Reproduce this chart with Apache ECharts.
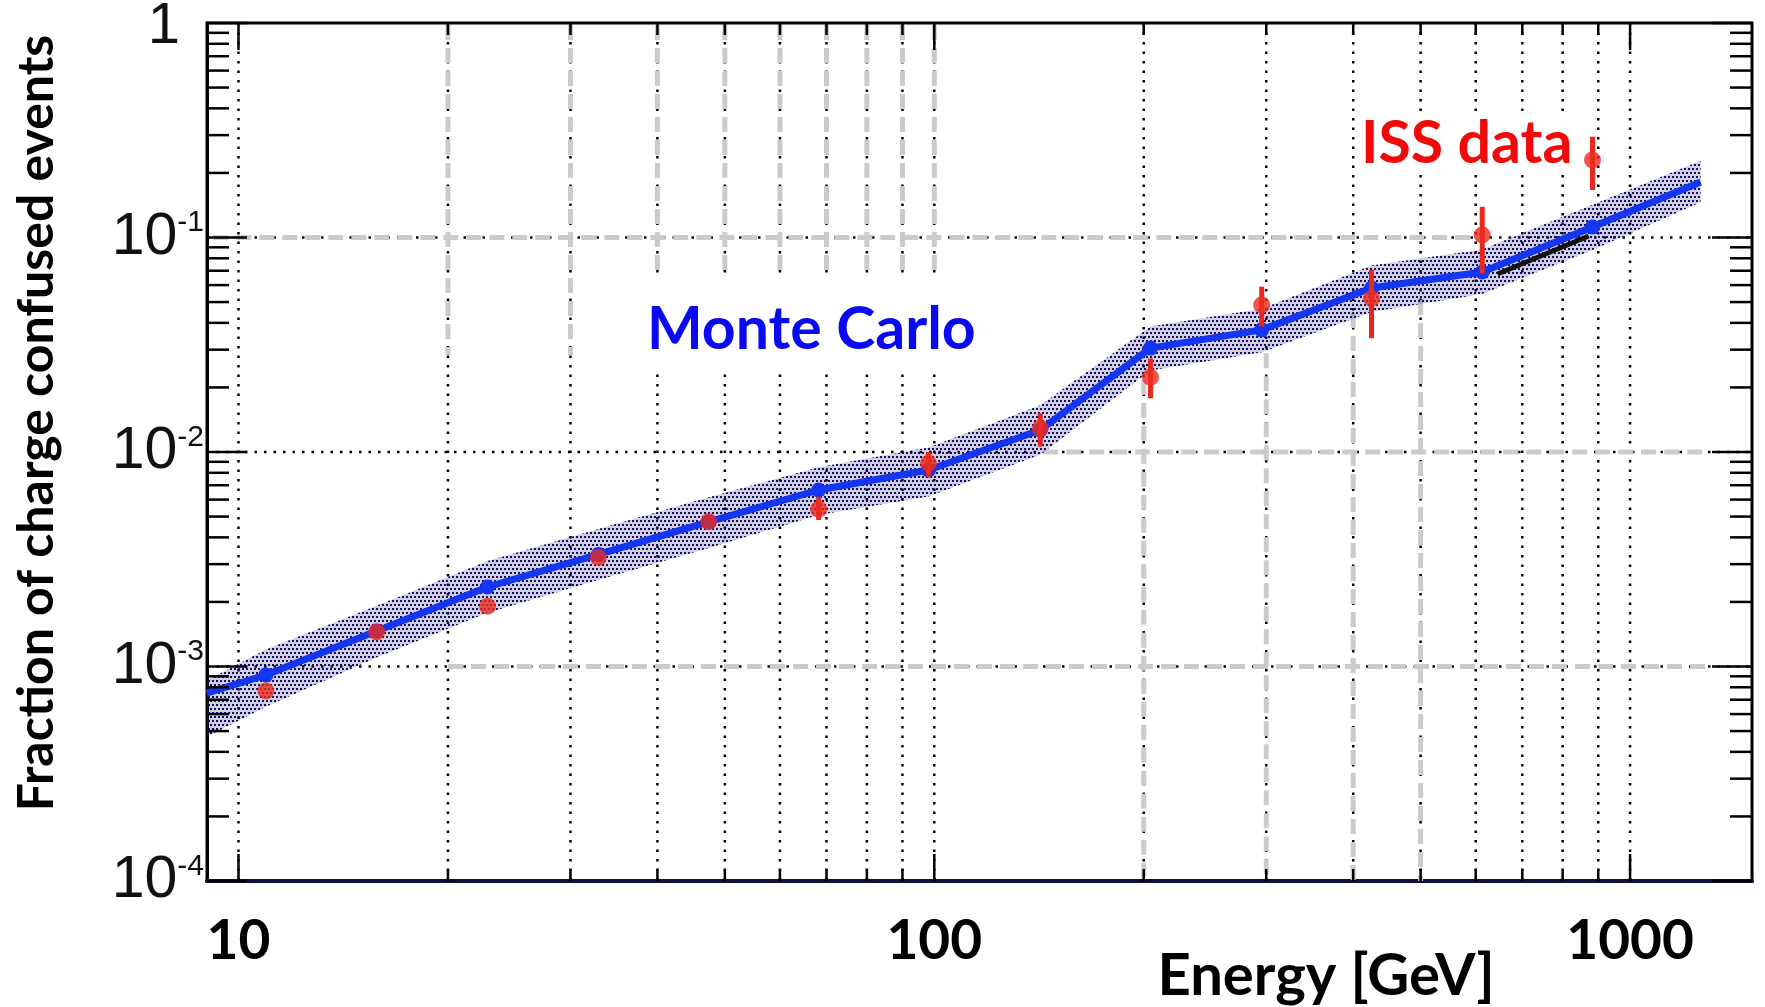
<!DOCTYPE html>
<html><head><meta charset="utf-8">
<script src="https://cdn.jsdelivr.net/npm/echarts@6/dist/echarts.min.js"></script>
<style>html,body{margin:0;padding:0;background:#fff}#c{width:1765px;height:1007px}</style>
</head><body><div id="c"></div>
<script>
// ---------------- data ----------------
const energyMC   = [9.0, 10.95, 15.8, 22.8, 32.9, 47.4, 68.2, 98.1, 142, 204.5, 295.5, 425, 613, 883, 1263];
const fractionMC = [7.52e-4, 9.13e-4, 1.464e-3, 2.348e-3, 3.33e-3, 4.72e-3, 6.65e-3, 8.24e-3, 1.267e-2, 3.05e-2, 3.71e-2, 5.81e-2, 6.91e-2, 0.1119, 0.1814];
const bandHigh   = [8.6e-4, 1.2e-3, 1.92e-3, 3.1e-3, 4.38e-3, 6.15e-3, 8.5e-3, 1.05e-2, 1.65e-2, 3.85e-2, 4.65e-2, 7.4e-2, 8.8e-2, 0.142, 0.228];
const bandLow    = [4.7e-4, 6.5e-4, 1.1e-3, 1.78e-3, 2.53e-3, 3.57e-3, 5.08e-3, 6.2e-3, 9.7e-3, 2.4e-2, 2.92e-2, 4.5e-2, 5.45e-2, 8.75e-2, 0.146];

const energyISS   = [10.95, 15.8, 22.8, 32.9, 47.4, 68.2, 98.1, 142, 204.5, 295.5, 425, 613, 883];
const fractionISS = [7.69e-4, 1.45e-3, 1.91e-3, 3.22e-3, 4.73e-3, 5.41e-3, 8.86e-3, 1.29e-2, 2.23e-2, 4.84e-2, 5.2e-2, 0.1027, 0.23];
const errLowISS   = [7.69e-4, 1.45e-3, 1.91e-3, 3.22e-3, 4.73e-3, 4.82e-3, 7.67e-3, 1.06e-2, 1.78e-2, 3.84e-2, 3.39e-2, 6.8e-2, 0.1665];
const errHighISS  = [7.69e-4, 1.45e-3, 1.91e-3, 3.22e-3, 4.73e-3, 6.19e-3, 1.0e-2, 1.515e-2, 2.73e-2, 5.9e-2, 7.06e-2, 0.139, 0.295];

const energyFit   = [645, 872];
const fractionFit = [0.0676, 0.1016];

// axis ticks / grid
const xTickLabels  = [10, 100, 1000];
const xMinorTicks  = [20, 30, 40, 50, 60, 70, 80, 90, 200, 300, 400, 500, 600, 700, 800, 900];
const yTickLabels  = [1e-4, 1e-3, 1e-2, 1e-1, 1];
const yMinorTicks  = [2e-4,3e-4,4e-4,5e-4,6e-4,7e-4,8e-4,9e-4,
                      2e-3,3e-3,4e-3,5e-3,6e-3,7e-3,8e-3,9e-3,
                      2e-2,3e-2,4e-2,5e-2,6e-2,7e-2,8e-2,9e-2,
                      0.2,0.3,0.4,0.5,0.6,0.7,0.8,0.9];
const xGridLines = [10,20,30,40,50,60,70,80,90,100,200,300,400,500,600,700,800,900,1000];
const yGridLines = [1e-3, 1e-2, 1e-1];
// grey dashed overlay grid segments: [energy, fractionFrom, fractionTo] and [fraction, energyFrom, energyTo]
const greyVertical = [[20,0.979,0.0283],[30,0.979,0.0283],
  [40,0.979,0.0683],[50,0.979,0.0683],[60,0.979,0.0683],[70,0.979,0.0683],[80,0.979,0.0683],[90,0.979,0.0683],[100,0.979,0.0683],
  [200,0.0217,1e-4],[300,0.0289,1e-4],[400,0.0445,1e-4],[500,0.0511,1e-4]];
const greyHorizontal = [[0.1, 9.2, 590],[0.01, 143.4, 1297],[1e-3, 20, 1297]];

// ---------------- chart ----------------
function dotPattern(){
  const c = document.createElement('canvas'); c.width = 8; c.height = 8;
  const g = c.getContext('2d');
  g.fillStyle = 'rgba(60,50,150,0.24)';
  g.fillRect(0, 0, 8, 8);
  g.fillStyle = 'rgba(20,14,92,1)';
  [[0,0],[4,0],[2,4],[6,4]].forEach(p => g.fillRect(p[0], p[1], 2, 2));
  return c;
}
const dots = dotPattern();
const chart = echarts.init(document.getElementById('c'), null, {renderer: 'canvas'});
const anchor = [[energyMC[1], fractionMC[1]]];

const option = {
  animation: false,
  backgroundColor: '#fff',
  grid: {left: 207, right: 13, top: 23, bottom: 126, show: true, borderColor: '#000', borderWidth: 3,
         containLabel: false, outerBoundsMode: 'none'},
  xAxis: {
    type: 'log', logBase: 10, min: 9.01, max: 1497,
    name: 'Energy [GeV]', nameLocation: 'middle', nameGap: 66, nameMoveOverlap: false,
    nameTextStyle: {fontFamily: 'Lato', fontWeight: 'bold', fontSize: 58, color: '#000', padding: [0,0,0,693]},
    axisLine: {show: true, lineStyle: {color: '#10103c', width: 4}},
    axisTick: {show: false}, splitLine: {show: false}, minorTick: {show: false},
    axisLabel: {
      fontFamily: 'Lato', fontWeight: 'bold', fontSize: 55, color: '#000', margin: 33,
      showMinLabel: false, showMaxLabel: false,
      formatter: v => {
        const l = Math.log10(v);
        if (Math.abs(l - Math.round(l)) > 0.01) return '';
        const t = xTickLabels.find(x => Math.abs(Math.log10(x) - l) < 0.01);
        return t ? String(t) : '';
      }
    }
  },
  yAxis: {
    type: 'log', logBase: 10, min: 1e-4, max: 1,
    name: 'Fraction of charge confused events', nameLocation: 'middle', nameGap: 145, nameRotate: 90,
    nameMoveOverlap: false,
    nameTextStyle: {fontFamily: 'Lato', fontWeight: 'bold', fontSize: 50, color: '#000', padding: [0,0,0,58]},
    axisLine: {show: true, lineStyle: {color: '#000', width: 3}},
    axisTick: {show: false}, splitLine: {show: false},
    axisLabel: {
      margin: 3,
      formatter: v => {
        const e = Math.round(Math.log10(v));
        if (e === 0) return '{one|1}';
        return '{b|10}{s|' + e + '}';
      },
      rich: {
        one: {fontFamily: 'Liberation Sans', fontSize: 58, color: '#111', padding: [8,24,0,0]},
        b: {fontFamily: 'Liberation Sans', fontSize: 59, color: '#111', verticalAlign: 'bottom', lineHeight: 59},
        s: {fontFamily: 'Liberation Sans', fontSize: 30, color: '#111', verticalAlign: 'top', lineHeight: 30, padding: [0,0,38,0]}
      }
    }
  },
  graphic: [
    {type: 'rect', z: 3, silent: true, shape: {x: 622, y: 273, width: 368, height: 99}, style: {fill: '#fff'}},
    {type: 'text', z: 3, silent: true, x: 647, y: 330, style: {text: 'Monte Carlo', font: 'bold 59px Lato', fill: '#0a0af2', align: 'left', verticalAlign: 'middle'}},
    {type: 'rect', z: 3, silent: true, shape: {x: 1358, y: 116, width: 216, height: 52}, style: {fill: '#fff'}},
    {type: 'text', z: 3, silent: true, x: 1361, y: 144, style: {text: 'ISS data', font: 'bold 59px Lato', fill: '#f20a0a', align: 'left', verticalAlign: 'middle'}}
  ],
  series: [
    { // dotted grid
      type: 'custom', z: 1, silent: true, data: anchor, clip: true,
      renderItem: (params, api) => {
        const cs = params.coordSys, ch = [];
        const st = {stroke: '#000', lineWidth: 2.5, lineDash: [2.5, 7]};
        xGridLines.forEach(v => { const x = api.coord([v, 1e-2])[0];
          ch.push({type: 'line', shape: {x1: x, y1: cs.y, x2: x, y2: cs.y + cs.height}, style: st}); });
        yGridLines.forEach(v => { const y = api.coord([10, v])[1];
          ch.push({type: 'line', shape: {x1: cs.x, y1: y, x2: cs.x + cs.width, y2: y}, style: st}); });
        return {type: 'group', children: ch};
      }
    },
    { // grey dashed overlay grid
      type: 'custom', z: 2, silent: true, data: anchor, clip: true,
      renderItem: (params, api) => {
        const ch = [];
        const st = {stroke: '#cbcbcb', lineWidth: 5, lineDash: [15, 8]};
        greyVertical.forEach(s => { const a = api.coord([s[0], s[1]]), b = api.coord([s[0], s[2]]);
          ch.push({type: 'line', shape: {x1: a[0], y1: a[1], x2: b[0], y2: b[1]}, style: st}); });
        greyHorizontal.forEach(s => { const a = api.coord([s[1], s[0]]), b = api.coord([s[2], s[0]]);
          ch.push({type: 'line', shape: {x1: a[0], y1: a[1], x2: b[0], y2: b[1]}, style: st}); });
        return {type: 'group', children: ch};
      }
    },
    { // Monte Carlo uncertainty band
      type: 'custom', z: 4, silent: true, data: anchor, clip: true,
      renderItem: (params, api) => {
        const pts = [];
        for (let i = 0; i < energyMC.length; i++) pts.push(api.coord([energyMC[i], bandHigh[i]]));
        for (let i = energyMC.length - 1; i >= 0; i--) pts.push(api.coord([energyMC[i], bandLow[i]]));
        return {type: 'polygon', shape: {points: pts}, style: {fill: {image: dots, repeat: 'repeat'}}};
      }
    },
    { // black fit segment
      type: 'line', z: 5, silent: true, symbol: 'none',
      data: energyFit.map((x, i) => [x, fractionFit[i]]),
      lineStyle: {color: '#111', width: 5}
    },
    { // Monte Carlo line
      name: 'Monte Carlo', type: 'line', z: 6, silent: true, clip: true,
      data: energyMC.map((x, i) => ({value: [x, fractionMC[i]], symbol: (i === 0 || i === energyMC.length - 1) ? 'none' : 'circle'})),
      symbolSize: 15, itemStyle: {color: '#1436f2'},
      lineStyle: {color: '#1436f2', width: 7}
    },
    { // ISS error bars
      type: 'custom', z: 7, silent: true, clip: true,
      data: energyISS.map((x, i) => [x, errLowISS[i], errHighISS[i]]),
      encode: {x: 0, y: [1, 2]},
      renderItem: (params, api) => {
        if (api.value(1) === api.value(2)) return null;
        const a = api.coord([api.value(0), api.value(1)]), b = api.coord([api.value(0), api.value(2)]);
        return {type: 'line', shape: {x1: a[0], y1: a[1], x2: b[0], y2: b[1]}, style: {stroke: '#e8281e', lineWidth: 5}};
      }
    },
    { // ISS data points
      name: 'ISS data', type: 'scatter', z: 8, silent: true,
      data: energyISS.map((x, i) => [x, fractionISS[i]]),
      symbol: 'circle', symbolSize: 17, itemStyle: {color: '#ec2a1e'}
    },
    { // axis ticks (inside, all four sides)
      type: 'custom', z: 9, silent: true, data: anchor, clip: false,
      renderItem: (params, api) => {
        const cs = params.coordSys, ch = [];
        const st = {stroke: '#000', lineWidth: 2.5};
        const xt = (v, len) => { const x = api.coord([v, 1e-2])[0];
          ch.push({type: 'line', shape: {x1: x, y1: cs.y + cs.height, x2: x, y2: cs.y + cs.height - len}, style: st});
          ch.push({type: 'line', shape: {x1: x, y1: cs.y, x2: x, y2: cs.y + len}, style: st}); };
        const yt = (v, len) => { const y = api.coord([10, v])[1];
          ch.push({type: 'line', shape: {x1: cs.x, y1: y, x2: cs.x + len, y2: y}, style: st});
          ch.push({type: 'line', shape: {x1: cs.x + cs.width, y1: y, x2: cs.x + cs.width - len, y2: y}, style: st}); };
        xTickLabels.forEach(v => xt(v, 27));
        xMinorTicks.forEach(v => xt(v, 12));
        yTickLabels.forEach(v => yt(v, 40));
        yMinorTicks.forEach(v => yt(v, 22));
        return {type: 'group', children: ch};
      }
    }
  ]
};
chart.setOption(option);
</script>
</body></html>
